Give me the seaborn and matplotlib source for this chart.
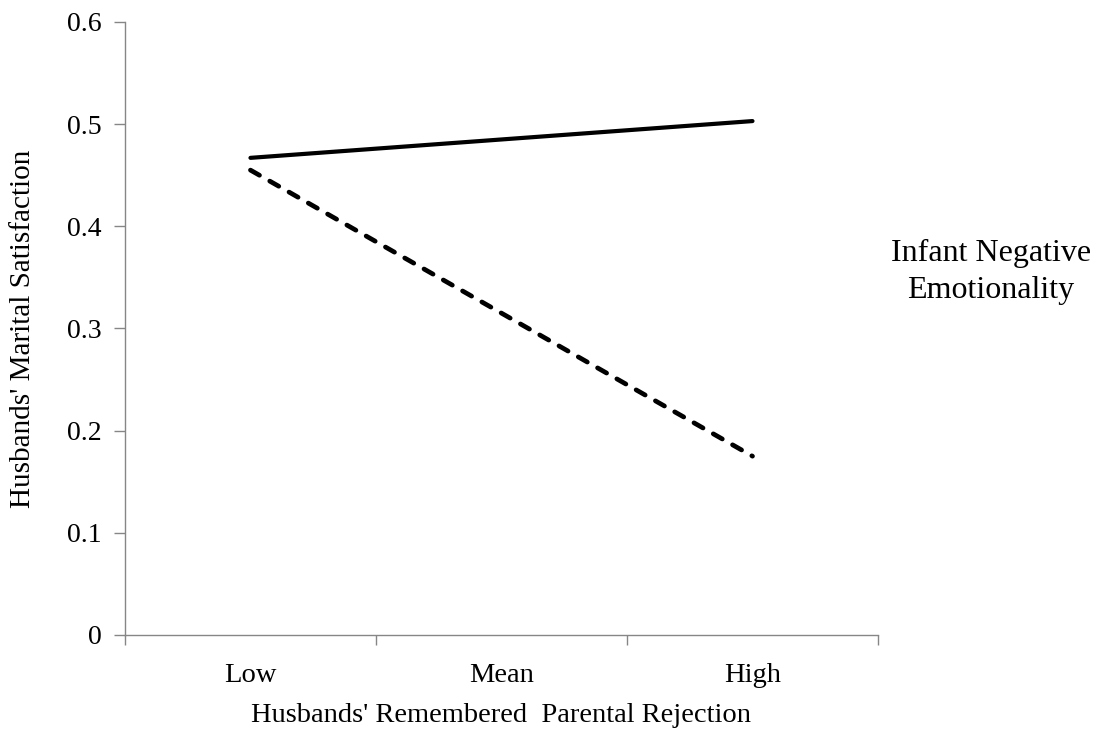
import matplotlib
matplotlib.use("Agg")
import matplotlib.pyplot as plt
import seaborn as sns
import pandas as pd
from matplotlib.ticker import FixedLocator, NullFormatter, FixedFormatter

categories = ["Low", "Mean", "High"]
plotted = ["Low", "High"]
solid_values = [0.467, 0.503]
dashed_values = [0.455, 0.175]
y_ticks = [0, 0.1, 0.2, 0.3, 0.4, 0.5, 0.6]
y_tick_labels = ["0", "0.1", "0.2", "0.3", "0.4", "0.5", "0.6"]

sns.set_style("white")
plt.rcParams["font.family"] = ["Liberation Serif", "DejaVu Serif"]
plt.rcParams["text.color"] = "black"
plt.rcParams["axes.labelcolor"] = "black"
plt.rcParams["xtick.labelcolor"] = "black"
plt.rcParams["ytick.labelcolor"] = "black"

pos = [categories.index(c) for c in plotted]
df = pd.DataFrame({
    "x": pos + pos,
    "y": solid_values + dashed_values,
    "group": ["solid"] * 2 + ["dashed"] * 2,
})

fig = plt.figure(figsize=(10.99, 7.45), dpi=100)
ax = fig.add_axes([0.1137, 0.1477, 0.6852, 0.8228])

sns.lineplot(data=df[df.group == "solid"], x="x", y="y", ax=ax, color="black",
             linewidth=3.0, solid_capstyle="round")
sns.lineplot(data=df[df.group == "dashed"], x="x", y="y", ax=ax, color="black",
             linewidth=3.4)
ax.lines[-1].set_dashes([2.2, 2.5])
ax.lines[-1].set_dash_capstyle("round")

ax.set_xlim(-0.5, len(categories) - 0.5)
ax.set_ylim(0, 0.6)

ax.xaxis.set_major_locator(FixedLocator([i - 0.5 for i in range(len(categories) + 1)]))
ax.xaxis.set_major_formatter(NullFormatter())
ax.xaxis.set_minor_locator(FixedLocator(list(range(len(categories)))))
ax.xaxis.set_minor_formatter(FixedFormatter(categories))
ax.tick_params(axis="x", which="major", direction="out", length=7, width=1,
               color="#868686", bottom=True)
ax.tick_params(axis="x", which="minor", length=0, labelsize=20.5, pad=20, bottom=True,
               labelcolor="black")

ax.set_yticks(y_ticks)
ax.set_yticklabels(y_tick_labels)
ax.tick_params(axis="y", direction="out", length=8, width=1, color="#868686",
               labelsize=20, pad=9, left=True, labelcolor="black")

for s in ["top", "right"]:
    ax.spines[s].set_visible(False)
for s in ["left", "bottom"]:
    ax.spines[s].set_color("#868686")
    ax.spines[s].set_linewidth(1)

ax.set_xlabel("Husbands' Remembered  Parental Rejection", fontsize=20.5, labelpad=11,
              color="black")
ax.set_ylabel("Husbands' Marital Satisfaction", fontsize=21, labelpad=22, color="black")

fig.text(0.9017, 0.635, "Infant Negative\nEmotionality", ha="center", va="center",
         fontsize=23, linespacing=1.4, color="black")

fig.savefig("out.png", dpi=100)
